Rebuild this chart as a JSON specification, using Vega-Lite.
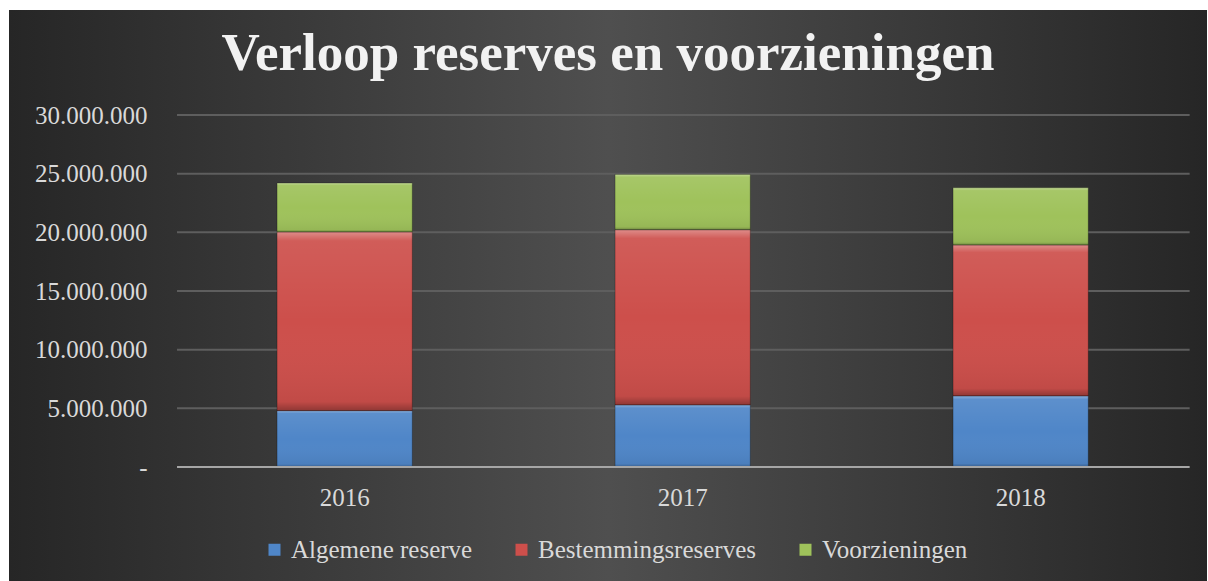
{
  "$schema": "https://vega.github.io/schema/vega-lite/v6.json",
  "autosize": {"type": "none"},
  "width": 1198,
  "height": 571,
  "padding": {"left": 9, "top": 10, "right": 1, "bottom": 0},
  "background": "white",
  "config": {
    "view": {"stroke": null},
    "locale": {"number": {"decimal": ",", "thousands": ".", "grouping": [3], "currency": ["€", ""]}},
    "font": "Liberation Serif"
  },
  "title": {
    "text": "Verloop reserves en voorzieningen",
    "font": "Liberation Serif",
    "fontSize": 53,
    "fontWeight": "bold",
    "color": "#f2f2f2",
    "anchor": "middle",
    "frame": "group",
    "baseline": "alphabetic",
    "offset": -65,
    "dy": 48,
    "zindex": 1
  },
  "datasets": {
    "reserves": [
      {"jaar": "2016", "categorie": "Algemene reserve", "bedrag": 4800000},
      {"jaar": "2016", "categorie": "Bestemmingsreserves", "bedrag": 15230000},
      {"jaar": "2016", "categorie": "Voorzieningen", "bedrag": 4170000},
      {"jaar": "2017", "categorie": "Algemene reserve", "bedrag": 5290000},
      {"jaar": "2017", "categorie": "Bestemmingsreserves", "bedrag": 14930000},
      {"jaar": "2017", "categorie": "Voorzieningen", "bedrag": 4720000},
      {"jaar": "2018", "categorie": "Algemene reserve", "bedrag": 6060000},
      {"jaar": "2018", "categorie": "Bestemmingsreserves", "bedrag": 12860000},
      {"jaar": "2018", "categorie": "Voorzieningen", "bedrag": 4880000}
    ],
    "grid": [
      {"v": 0}, {"v": 5000000}, {"v": 10000000}, {"v": 15000000},
      {"v": 20000000}, {"v": 25000000}, {"v": 30000000}
    ],
    "panel": [{"p": 1}]
  },
  "layer": [
    {
      "data": {"name": "panel"},
      "mark": {
        "type": "rect",
        "fill": {
          "gradient": "linear",
          "x1": 0, "y1": 0, "x2": 1, "y2": 0,
          "stops": [
            {"offset": 0, "color": "#262626"},
            {"offset": 0.5, "color": "#4f4f4f"},
            {"offset": 1, "color": "#262626"}
          ]
        }
      },
      "encoding": {}
    },
    {
      "data": {"name": "grid"},
      "transform": [{"filter": "datum.v > 0"}],
      "mark": {"type": "rule", "color": "#5e5e5e", "strokeWidth": 2},
      "encoding": {
        "x": {"datum": "2016", "type": "nominal", "bandPosition": -0.74},
        "x2": {"datum": "2018", "bandPosition": 1.75},
        "y": {"field": "v", "type": "quantitative"}
      }
    },
    {
      "data": {"name": "reserves"},
      "mark": {"type": "bar"},
      "encoding": {
        "x": {
          "field": "jaar",
          "type": "nominal",
          "scale": {"paddingInner": 0.6, "paddingOuter": 0.5722, "align": 0.693},
          "axis": {
            "orient": "bottom",
            "offset": -114,
            "zindex": 1,
            "title": null,
            "domain": false,
            "ticks": false,
            "tickSize": 0,
            "grid": false,
            "bandPosition": 0.5,
            "labelAngle": 0,
            "labelAlign": "center",
            "labelBaseline": "top",
            "labelPadding": 18,
            "labelFont": "Liberation Serif",
            "labelFontSize": 25,
            "labelColor": "#d9d9d9"
          }
        },
        "y": {
          "field": "bedrag",
          "type": "quantitative",
          "stack": "zero",
          "scale": {"domain": [-9716000, 38950000], "nice": false, "zero": false},
          "axis": {
            "orient": "left",
            "offset": -138,
            "zindex": 1,
            "title": null,
            "domain": false,
            "ticks": false,
            "tickSize": 0,
            "grid": false,
            "labelPadding": 0,
            "labelAlign": "right",
            "labelBaseline": "middle",
            "labelOverlap": false,
            "values": [0, 5000000, 10000000, 15000000, 20000000, 25000000, 30000000],
            "format": ",d",
            "labelExpr": "datum.value === 0 ? '-\u2007' : datum.label",
            "labelFont": "Liberation Serif",
            "labelFontSize": 25,
            "labelColor": "#d9d9d9"
          }
        },
        "color": {
          "field": "categorie",
          "type": "nominal",
          "scale": {
            "domain": ["Algemene reserve", "Bestemmingsreserves", "Voorzieningen"],
            "range": ["#4f86c8", "#cd4f4b", "#9fc25b"]
          },
          "legend": {
            "orient": "none",
            "direction": "horizontal",
            "legendX": 253,
            "legendY": 527,
            "zindex": 1,
            "title": null,
            "padding": 0,
            "symbolType": "square",
            "symbolSize": 144,
            "symbolStrokeWidth": 0,
            "symbolOpacity": 1,
            "labelOffset": 4,
            "columnPadding": 36,
            "labelFont": "Liberation Serif",
            "labelFontSize": 25,
            "labelColor": "#d9d9d9",
            "labelLimit": 400
          }
        },
        "order": {"field": "categorie"}
      }
    },
    {
      "data": {"name": "reserves"},
      "mark": {
        "type": "bar",
        "fill": {
          "gradient": "linear",
          "x1": 0, "y1": 0, "x2": 0, "y2": 1,
          "stops": [
            {"offset": 0, "color": "rgba(255,255,255,0.35)"},
            {"offset": 0.05, "color": "rgba(255,255,255,0.08)"},
            {"offset": 0.5, "color": "rgba(255,255,255,0)"},
            {"offset": 0.95, "color": "rgba(0,0,0,0.06)"},
            {"offset": 1, "color": "rgba(0,0,0,0.3)"}
          ]
        },
        "stroke": "rgba(0,0,0,0.25)",
        "strokeWidth": 1
      },
      "encoding": {
        "x": {"field": "jaar", "type": "nominal"},
        "y": {"field": "bedrag", "type": "quantitative", "stack": "zero"},
        "detail": {"field": "categorie", "type": "nominal"},
        "order": {"field": "categorie"}
      }
    },
    {
      "data": {"name": "grid"},
      "transform": [{"filter": "datum.v == 0"}],
      "mark": {"type": "rule", "color": "#a6a6a6", "strokeWidth": 2},
      "encoding": {
        "x": {"datum": "2016", "type": "nominal", "bandPosition": -0.74},
        "x2": {"datum": "2018", "bandPosition": 1.75},
        "y": {"field": "v", "type": "quantitative"}
      }
    }
  ]
}
